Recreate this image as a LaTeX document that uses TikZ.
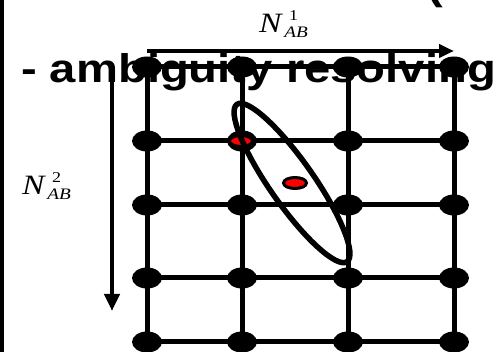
\documentclass[tikz,border=0pt]{standalone}
\usepackage{fontspec}
\setmainfont{Liberation Serif}
\newfontfamily\sansfam{Liberation Sans}
\usetikzlibrary{shapes.geometric,arrows.meta}
\newcommand{\Nlab}[1]{\scalebox{1.2}[1]{\fontsize{28}{28}\selectfont\textit{N}\kern1pt\rlap{\raisebox{12pt}{\fontsize{15}{15}\selectfont\kern4pt #1}}\raisebox{-5pt}{\fontsize{16}{16}\selectfont\textit{AB}}}}
\begin{document}
\begin{tikzpicture}[x=1pt,y=-1pt,
  gridline/.style={line width=5pt},
  dot/.style={ellipse, fill=black, minimum width=30pt, minimum height=21pt, inner sep=0pt},
  reddot/.style={ellipse, fill=red, draw=black, line width=3pt, minimum width=23pt, minimum height=11pt, inner sep=0pt},
  axisarrow/.style={line width=4.5pt, -{Triangle[width=13pt,length=15pt]}},
  selring/.style={ellipse, draw=black, line width=5.5pt, minimum width=192pt, minimum height=44pt, inner sep=0pt},
  bigtext/.style={anchor=base west, inner sep=0pt, font=\sansfam\bfseries\fontsize{40}{40}\selectfont},
  lab/.style={anchor=base west, inner sep=0pt}]
\useasboundingbox (0,0) rectangle (504,352);
\clip (0,0) rectangle (504,352);
\fill[white] (0,0) rectangle (504,352);
% left border
\coordinate (b0) at (2,0);
\coordinate (b1) at (2,352);
\draw[line width=4.5pt] (b0) -- (b1);
% grid dots
\foreach \x [count=\i] in {147,242,348,454}
  \foreach \y [count=\j] in {67,141,205,278,342}
    \node[dot] (d-\i-\j) at (\x,\y) {};
% grid lines
\foreach \i in {1,2,3,4}
  \draw[gridline] (d-\i-1.center) -- (d-\i-5.center);
\foreach \j in {1,2,3,4,5}
  \draw[gridline] (d-1-\j.center) -- (d-4-\j.center);
% arrows
\coordinate (h0) at (147,51);
\coordinate (h1) at (454,51);
\draw[axisarrow] (h0) -- (h1);
\coordinate (v0) at (112,66);
\coordinate (v1) at (112,311);
\draw[axisarrow, -{Triangle[width=15pt,length=17pt]}] (v0) -- (v1);
% red dots
\node[reddot] (r1) at (241,141) {};
\node[reddot] (r2) at (295,183) {};
% selection ellipse
\node[selring, rotate=-55] (sel) at (292,183) {};
% texts
\node[bigtext] (txt) at (21,83) {\scalebox{1.18}[1]{- ambiguity resolving}};
\node[bigtext] (paren) at (427,0) {\scalebox{1.18}[1]{(}};
\node[lab] (n1) at (259,33) {\Nlab{1}};
\node[lab] (n2) at (22,195) {\Nlab{2}};
\end{tikzpicture}
\end{document}
